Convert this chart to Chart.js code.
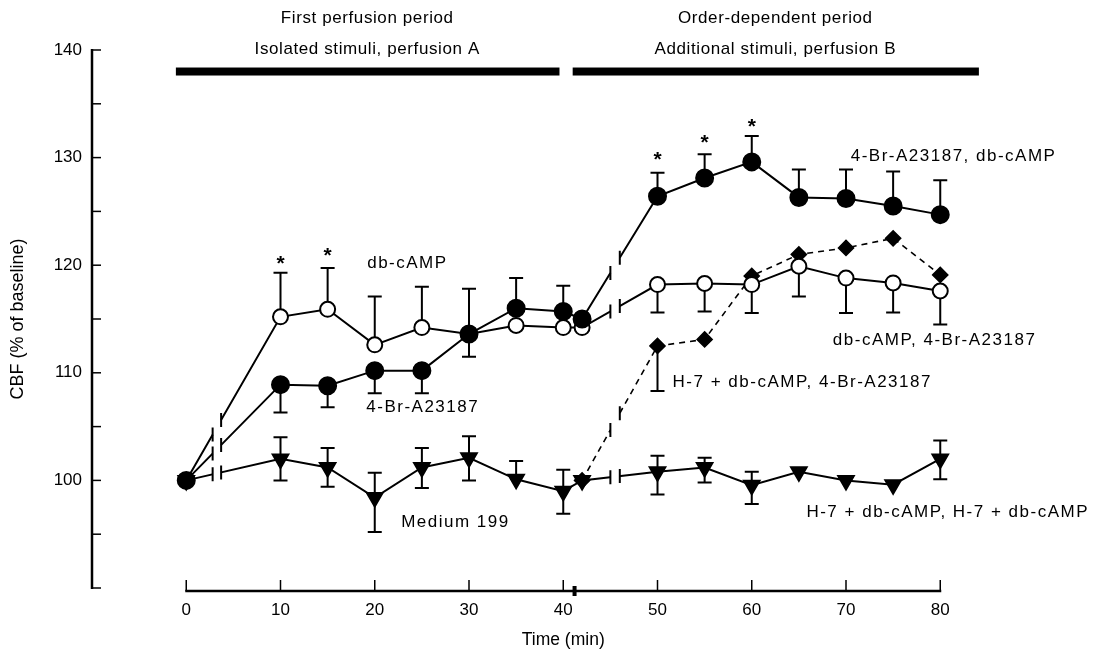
<!DOCTYPE html>
<html>
<head>
<meta charset="utf-8">
<script src="https://cdn.jsdelivr.net/npm/chart.js@4.4.1/dist/chart.umd.min.js"></script>
<style>
  html, body { margin: 0; padding: 0; background: #fff; }
  #wrap { width: 1117px; height: 655px; }
</style>
</head>
<body>
<div id="wrap"><canvas id="cbf" width="1117" height="655"></canvas></div>
<script>
// sample times (min); 42 is the first sample after the switch to perfusion B
const times = [0, 10, 15, 20, 25, 30, 35, 40, 42, 50, 55, 60, 65, 70, 75, 80];

// filled circles: 4-Br-A23187, then db-cAMP added
const brThenCamp     = [100, 108.9, 108.8, 110.2, 110.2, 113.6, 116.0, 115.7, 115.0, 126.4, 128.1, 129.6, 126.3, 126.2, 125.5, 124.7];
const brThenCampHigh = [null, null, null, null, null, null, 118.8, 118.1, null, 128.6, 130.3, 132.0, 128.9, 128.9, 128.7, 127.9];
const brThenCampLow  = [null, 106.3, 106.8, 108.1, 108.1, 111.5, null, null, null, null, null, null, null, null, null, null];

// open circles: db-cAMP, then 4-Br-A23187 added
const campThenBr     = [100, 115.2, 115.9, 112.6, 114.2, 113.6, 114.4, 114.2, 114.2, 118.2, 118.3, 118.2, 119.9, 118.8, 118.35, 117.6];
const campThenBrHigh = [null, 119.3, 119.75, 117.1, 118.0, 117.8, null, null, null, null, null, null, null, null, null, null];
const campThenBrLow  = [null, null, null, null, null, null, null, null, null, 115.6, 115.7, 115.55, 117.1, 115.55, 115.6, 114.5];

// diamonds: H-7 + db-cAMP, 4-Br-A23187 (second period only)
const h7Br     = [null, null, null, null, null, null, null, null, 100, 112.5, 113.1, 119.0, 121.0, 121.6, 122.5, 119.1];
const h7BrLow  = [null, null, null, null, null, null, null, null, null, 108.3, null, null, null, null, null, null];

// triangles: Medium 199, then H-7 + db-cAMP
const medium     = [100, 102.0, 101.2, 98.4, 101.2, 102.1, 100.1, 99.0, 100.0, 100.8, 101.2, 99.55, 100.8, 100.0, 99.6, 102.0];
const mediumHigh = [null, 104.0, 103.0, 100.7, 103.0, 104.1, 101.8, 101.0, null, 102.3, 102.1, 100.8, null, null, null, 103.7];
const mediumLow  = [null, 100.0, 99.4, 95.2, 99.3, 100.0, null, 96.9, null, 98.7, 99.8, 97.8, null, null, null, 100.1];

// x-axis ticks and breaks drawn on the lines
const xTicks = [0, 10, 20, 30, 40, 50, 60, 70, 80];
const lineBreaks = [[2.8, 3.7], [45.0, 46.0]];

// significance marks (time, height)
const starTimes  = [10, 15, 50, 55, 60];
const starValues = [120.6, 121.3, 130.2, 131.8, 133.3];

// perfusion period bars
const periodStart = [-1.1, 41.0];
const periodEnd   = [39.6, 84.1];
const periodTitles = [
  ['First perfusion period', 'Isolated stimuli, perfusion A'],
  ['Order-dependent period', 'Additional stimuli, perfusion B']
];
const periodCentres = [19.2, 62.5];

// curve labels (time of left edge, value)
const labelTexts = ['db-cAMP', '4-Br-A23187', 'Medium 199', '4-Br-A23187, db-cAMP',
                    'db-cAMP, 4-Br-A23187', 'H-7 + db-cAMP, 4-Br-A23187', 'H-7 + db-cAMP, H-7 + db-cAMP'];
const labelX = [19.2, 19.1, 22.8, 70.5, 68.6, 51.6, 65.8];
const labelY = [120.2, 106.8, 96.1, 130.1, 113.0, 109.1, 97.0];

const FONT = "'Liberation Sans', Arial, Helvetica, sans-serif";

const figure = {
  id: 'figure',
  beforeDatasetsDraw(chart) {
    const { ctx, scales: { x, y } } = chart;
    ctx.save();
    ctx.strokeStyle = '#000';
    ctx.lineWidth = 2;
    chart.data.datasets.forEach(ds => {
      [ds.errHigh, ds.errLow].forEach(arr => {
        if (!arr) return;
        arr.forEach((v, i) => {
          if (v == null || ds.data[i] == null) return;
          const px = x.getPixelForValue(times[i]);
          const p0 = y.getPixelForValue(ds.data[i]);
          const p1 = y.getPixelForValue(v);
          ctx.beginPath();
          ctx.moveTo(px, p0); ctx.lineTo(px, p1);
          ctx.moveTo(px - 7, p1); ctx.lineTo(px + 7, p1);
          ctx.stroke();
        });
      });
    });
    ctx.restore();
  },
  afterDatasetsDraw(chart) {
    const { ctx, scales: { x } } = chart;
    ctx.save();
    chart.data.datasets.forEach((ds, di) => {
      const meta = chart.getDatasetMeta(di);
      lineBreaks.forEach(([a, b]) => {
        for (let i = 0; i < times.length - 1; i++) {
          if (times[i] > a || times[i + 1] < b) continue;
          if (ds.data[i] == null || ds.data[i + 1] == null) continue;
          const p = meta.data[i], q = meta.data[i + 1];
          const at = t => {
            const f = (x.getPixelForValue(t) - p.x) / (q.x - p.x);
            return { x: p.x + f * (q.x - p.x), y: p.y + f * (q.y - p.y) };
          };
          const pa = at(a), pb = at(b);
          ctx.strokeStyle = '#fff';
          ctx.lineWidth = 5;
          ctx.beginPath(); ctx.moveTo(pa.x, pa.y); ctx.lineTo(pb.x, pb.y); ctx.stroke();
          ctx.strokeStyle = '#000';
          ctx.lineWidth = 2;
          ctx.beginPath();
          ctx.moveTo(pa.x, pa.y - 7); ctx.lineTo(pa.x, pa.y + 7);
          ctx.moveTo(pb.x, pb.y - 7); ctx.lineTo(pb.x, pb.y + 7);
          ctx.stroke();
        }
      });
    });
    ctx.restore();
  },
  afterDraw(chart) {
    const { ctx, chartArea, scales: { x, y } } = chart;
    ctx.save();
    ctx.strokeStyle = '#000';
    ctx.fillStyle = '#000';

    // y axis with inward ticks
    const ax = chartArea.left;
    ctx.lineWidth = 2.5;
    ctx.beginPath();
    ctx.moveTo(ax, y.getPixelForValue(140) - 1);
    ctx.lineTo(ax, y.getPixelForValue(90) + 1);
    ctx.stroke();
    ctx.lineWidth = 1.5;
    for (let v = 90; v <= 140; v += 5) {
      const py = y.getPixelForValue(v);
      ctx.beginPath(); ctx.moveTo(ax, py); ctx.lineTo(ax + 9, py); ctx.stroke();
    }

    // x axis, 0..80, ticks pointing up
    const ay = chartArea.bottom + 3;
    ctx.lineWidth = 2.5;
    ctx.beginPath();
    ctx.moveTo(x.getPixelForValue(0) - 1, ay);
    ctx.lineTo(x.getPixelForValue(80) + 1, ay);
    ctx.stroke();
    ctx.lineWidth = 1.5;
    xTicks.forEach(t => {
      const px = x.getPixelForValue(t);
      ctx.beginPath(); ctx.moveTo(px, ay); ctx.lineTo(px, ay - 11); ctx.stroke();
    });
    ctx.fillRect(x.getPixelForValue(41.2) - 2, ay - 5, 4, 10);

    // period bars and titles
    const barY = y.getPixelForValue(138.0);
    periodStart.forEach((s, i) => {
      const x0 = x.getPixelForValue(s), x1 = x.getPixelForValue(periodEnd[i]);
      ctx.fillRect(x0, barY - 4, x1 - x0, 8);
    });
    ctx.font = '17px ' + FONT;
    ctx.textAlign = 'center';
    ctx.textBaseline = 'middle';
    ctx.letterSpacing = '0.6px';
    periodTitles.forEach((lines, i) => {
      const cx = x.getPixelForValue(periodCentres[i]);
      ctx.fillText(lines[0], cx, y.getPixelForValue(142.9));
      ctx.fillText(lines[1], cx, y.getPixelForValue(140.1));
    });

    // curve labels
    ctx.textAlign = 'left';
    ctx.letterSpacing = '1.5px';
    labelTexts.forEach((t, i) => {
      ctx.fillText(t, x.getPixelForValue(labelX[i]), y.getPixelForValue(labelY[i]));
    });

    // asterisks
    ctx.letterSpacing = '0px';
    ctx.textAlign = 'center';
    ctx.font = 'bold 21px ' + FONT;
    starTimes.forEach((t, i) => {
      ctx.fillText('*', x.getPixelForValue(t), y.getPixelForValue(starValues[i]) + 5);
    });
    ctx.restore();
  }
};

new Chart(document.getElementById('cbf'), {
  type: 'line',
  data: {
    labels: times,
    datasets: [
      {
        label: '4-Br-A23187, db-cAMP',
        data: brThenCamp, errHigh: brThenCampHigh, errLow: brThenCampLow,
        borderColor: '#000', borderWidth: 2, backgroundColor: '#000',
        pointStyle: 'circle', pointRadius: 8.5, pointBackgroundColor: '#000', pointBorderColor: '#000'
      },
      {
        label: 'db-cAMP, 4-Br-A23187',
        data: campThenBr, errHigh: campThenBrHigh, errLow: campThenBrLow,
        borderColor: '#000', borderWidth: 2,
        pointStyle: 'circle', pointRadius: 7.5, pointBorderWidth: 2,
        pointBackgroundColor: '#fff', pointBorderColor: '#000'
      },
      {
        label: 'H-7 + db-cAMP, 4-Br-A23187',
        data: h7Br, errLow: h7BrLow,
        borderColor: '#000', borderWidth: 1.6, borderDash: [6, 5],
        pointStyle: 'rectRot', pointRadius: 7.5,
        pointBackgroundColor: '#000', pointBorderColor: '#000'
      },
      {
        label: 'Medium 199',
        data: medium, errHigh: mediumHigh, errLow: mediumLow,
        borderColor: '#000', borderWidth: 2,
        pointStyle: 'triangle', pointRotation: 180, pointRadius: 9,
        pointBackgroundColor: '#000', pointBorderColor: '#000'
      }
    ]
  },
  options: {
    responsive: false,
    animation: false,
    layout: { padding: { top: 50, right: 82.5, left: 0, bottom: 0 } },
    plugins: { legend: { display: false }, tooltip: { enabled: false } },
    elements: { line: { tension: 0, fill: false } },
    scales: {
      x: {
        type: 'linear', min: -10, max: 90,
        grid: { display: false, drawTicks: false },
        border: { display: false },
        afterBuildTicks: s => { s.ticks = xTicks.map(v => ({ value: v })); },
        afterFit: s => { s.height = 67; },
        ticks: { color: '#000', font: { family: FONT, size: 17 }, padding: 12, maxRotation: 0 },
        title: { display: true, text: 'Time (min)', color: '#000',
                 font: { family: FONT, size: 17.5 }, padding: { top: 4 } }
      },
      y: {
        min: 90, max: 140,
        grid: { display: false, drawTicks: false },
        border: { display: false },
        afterFit: s => { s.width = 92; },
        ticks: {
          stepSize: 5, color: '#000', font: { family: FONT, size: 17 }, padding: 10,
          callback: v => (v % 10 === 0 && v !== 90) ? v : ''
        },
        title: { display: true, text: 'CBF (% of baseline)', color: '#000',
                 font: { family: FONT, size: 18 }, padding: { top: 7 } }
      }
    }
  },
  plugins: [figure]
});
</script>
</body>
</html>
